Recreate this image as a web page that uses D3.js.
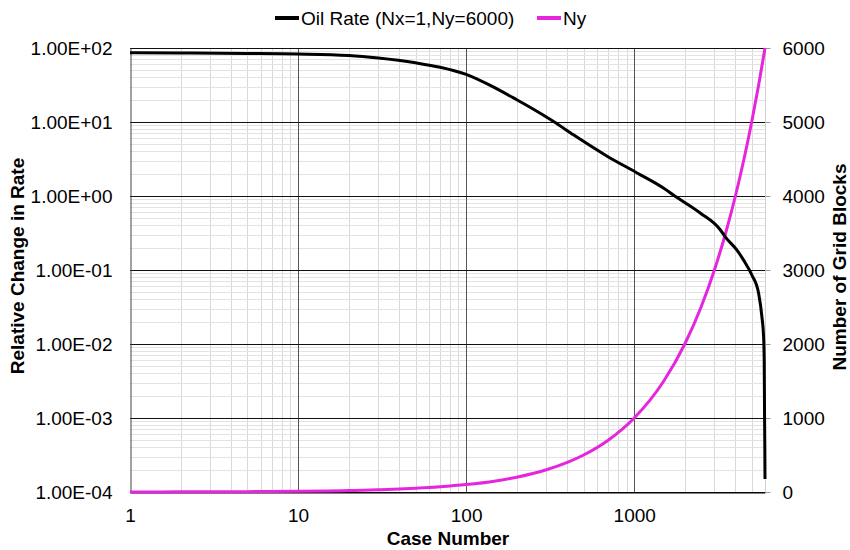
<!DOCTYPE html>
<html>
<head>
<meta charset="utf-8">
<script src="https://cdn.jsdelivr.net/npm/d3@7/dist/d3.min.js"></script>
<style>
  html, body { margin: 0; padding: 0; background: #fff; }
  svg text { font-family: "Liberation Sans", Arial, sans-serif; }
</style>
</head>
<body>
<svg id="chart" width="850" height="550"></svg>
<script>
// Oil rate relative change vs. case number (log-log)
const oilCases = [1, 2, 5, 10, 20, 30, 50, 70, 100, 140, 200, 250, 335, 435, 690, 1040, 1500, 1710, 2470, 3250, 3480, 4085, 4475, 5020, 5500, 5755, 5885, 5935, 5965, 5985, 6000];
const oilRate  = [86, 85.5, 84.5, 83, 79, 73, 63, 55, 44, 31, 20, 15, 10, 6.7, 3.45, 2.05, 1.27, 1.03, 0.59, 0.35, 0.28, 0.186, 0.136, 0.085, 0.048, 0.023, 0.0126, 0.006, 0.001, 0.0004, 0.00015];

// Number of grid blocks (Ny) per case
const nyCases = [1, 1.5, 2, 3, 4, 5, 7, 10, 15, 20, 30, 40, 50, 70, 100, 150, 200, 300, 400, 500, 700, 1000, 1500, 2000, 2500, 3000, 3500, 4000, 4500, 5000, 5500, 6000];
const nyValues = [1, 1.5, 2, 3, 4, 5, 7, 10, 15, 20, 30, 40, 50, 70, 100, 150, 200, 300, 400, 500, 700, 1000, 1500, 2000, 2500, 3000, 3500, 4000, 4500, 5000, 5500, 6000];

const xTicks = [1, 10, 100, 1000];
const leftTicks = [1e2, 1e1, 1e0, 1e-1, 1e-2, 1e-3, 1e-4];
const leftTickLabels = ["1.00E+02", "1.00E+01", "1.00E+00", "1.00E-01", "1.00E-02", "1.00E-03", "1.00E-04"];
const rightTicks = [0, 1000, 2000, 3000, 4000, 5000, 6000];

const seriesNames = ["Oil Rate (Nx=1,Ny=6000)", "Ny"];
const seriesColors = ["#000000", "#e526dc"];

const FS = 19;
const svg = d3.select("#chart");
const m = { left: 130, right: 765, top: 48, bottom: 492 };

const x = d3.scaleLog().domain([1, 6000]).range([m.left, m.right]);
const yL = d3.scaleLog().domain([1e-4, 1e2]).range([m.bottom, m.top]);
const yR = d3.scaleLinear().domain([0, 6000]).range([m.bottom, m.top]);

const grid = svg.append("g");

// minor gridlines
const minorX = [];
for (let d = 1; d <= 1000; d *= 10) for (let k = 2; k <= 9; k++) if (d * k <= 6000) minorX.push(d * k);
const minorY = [];
for (let d = 1e-4; d < 1e2; d *= 10) for (let k = 2; k <= 9; k++) minorY.push(d * k);

grid.selectAll(".mx").data(minorX).join("line")
  .attr("x1", d => Math.round(x(d)) + 0.5).attr("x2", d => Math.round(x(d)) + 0.5)
  .attr("y1", m.top).attr("y2", m.bottom)
  .attr("stroke", "#d9d9d9").attr("stroke-width", 1);
grid.selectAll(".my").data(minorY).join("line")
  .attr("x1", m.left).attr("x2", m.right)
  .attr("y1", d => Math.round(yL(d)) + 0.5).attr("y2", d => Math.round(yL(d)) + 0.5)
  .attr("stroke", "#e3e3e3").attr("stroke-width", 1);

// right border
grid.append("line")
  .attr("x1", m.right + 0.5).attr("x2", m.right + 0.5)
  .attr("y1", m.top).attr("y2", m.bottom)
  .attr("stroke", "#d0d0d0");

// major gridlines
grid.selectAll(".Mx").data(xTicks.slice(1)).join("line")
  .attr("x1", d => Math.round(x(d)) + 0.5).attr("x2", d => Math.round(x(d)) + 0.5)
  .attr("y1", m.top).attr("y2", m.bottom)
  .attr("stroke", "#555").attr("stroke-width", 1);
grid.selectAll(".My").data(leftTicks).join("line")
  .attr("x1", m.left).attr("x2", m.right)
  .attr("y1", d => Math.round(yL(d)) + 0.5).attr("y2", d => Math.round(yL(d)) + 0.5)
  .attr("stroke", "#111").attr("stroke-width", 1);

// left axis
const leftAxis = d3.axisLeft(yL).tickValues(leftTicks)
  .tickFormat((d, i) => leftTickLabels[i]).tickSize(0).tickPadding(18);
const gL = svg.append("g").attr("transform", `translate(${m.left + 0.5},0)`).call(leftAxis);
gL.select(".domain").attr("stroke", "#444");
gL.selectAll("text").attr("font-size", FS).attr("fill", "#000");

// right axis
const rightAxis = d3.axisRight(yR).tickValues(rightTicks).tickFormat(d3.format("d"))
  .tickSize(5).tickPadding(12);
const gR = svg.append("g").attr("transform", `translate(${m.right + 0.5},0)`).call(rightAxis);
gR.select(".domain").remove();
gR.selectAll("line").attr("stroke", "#999");
gR.selectAll("text").attr("font-size", FS).attr("fill", "#000");

// bottom axis
const bottomAxis = d3.axisBottom(x).tickValues(xTicks).tickFormat(d3.format("d")).tickSize(0).tickPadding(16);
const gB = svg.append("g").attr("transform", `translate(0,${m.bottom + 0.5})`).call(bottomAxis);
gB.select(".domain").attr("stroke", "#000");
gB.selectAll("text").attr("font-size", FS).attr("fill", "#000");

// series
const line = d3.line().curve(d3.curveMonotoneX);
svg.append("path")
  .attr("d", line(nyCases.map((c, i) => [x(c), yR(nyValues[i])])))
  .attr("fill", "none").attr("stroke", seriesColors[1]).attr("stroke-width", 3);
svg.append("path")
  .attr("d", line(oilCases.map((c, i) => [x(c), yL(oilRate[i])])))
  .attr("fill", "none").attr("stroke", seriesColors[0]).attr("stroke-width", 3);

// axis titles
svg.append("text").attr("x", 448).attr("y", 545)
  .attr("text-anchor", "middle").attr("font-size", FS).attr("font-weight", "bold")
  .text("Case Number");
svg.append("text").attr("transform", `translate(24,266) rotate(-90)`)
  .attr("text-anchor", "middle").attr("font-size", FS).attr("font-weight", "bold")
  .text("Relative Change in Rate");
svg.append("text").attr("transform", `translate(846,267) rotate(-90)`)
  .attr("text-anchor", "middle").attr("font-size", FS).attr("font-weight", "bold")
  .text("Number of Grid Blocks");

// legend
const legend = svg.append("g");
const legItems = [{ x: 275, name: seriesNames[0], color: seriesColors[0] },
                  { x: 537, name: seriesNames[1], color: seriesColors[1] }];
legItems.forEach(it => {
  legend.append("line").attr("x1", it.x).attr("x2", it.x + 24)
    .attr("y1", 18).attr("y2", 18).attr("stroke", it.color).attr("stroke-width", 4);
  legend.append("text").attr("x", it.x + 26).attr("y", 25)
    .attr("font-size", FS).attr("fill", "#000").text(it.name);
});
</script>
</body>
</html>
